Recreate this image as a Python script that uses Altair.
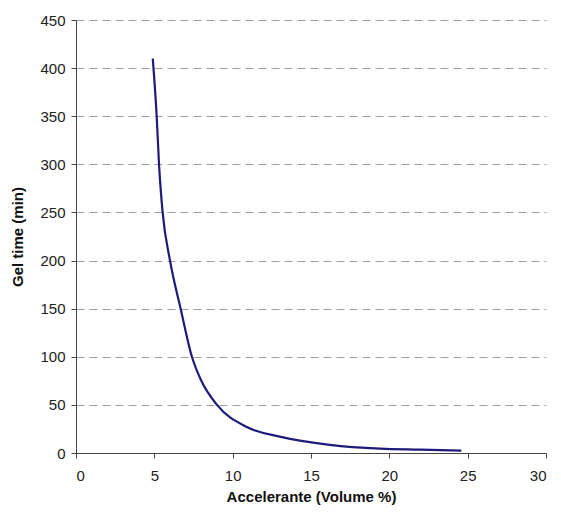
import altair as alt
import pandas as pd

accel = [4.9, 5.0, 5.15, 5.3, 5.53, 6.0, 6.68, 7.4, 8.0, 9.0, 10.9, 13.0, 16.2, 19.4, 22.0, 24.6]
gel = [410, 388, 350, 300, 250, 200, 150, 100, 75, 50, 27, 17, 8.5, 4.5, 3.5, 2.5]

df = pd.DataFrame({"x": accel, "y": gel})

chart = alt.Chart(df).mark_line(color="#1c1c7a", strokeWidth=2.2, interpolate="monotone").encode(
    x=alt.X("x:Q", scale=alt.Scale(domain=[0, 30], nice=False),
            axis=alt.Axis(title="Accelerante (Volume %)", values=[0, 5, 10, 15, 20, 25, 30],
                          grid=False, tickSize=5, labelPadding=10, titlePadding=6)),
    y=alt.Y("y:Q", scale=alt.Scale(domain=[0, 450], nice=False),
            axis=alt.Axis(title="Gel time  (min)", values=list(range(0, 451, 50)),
                          grid=True, gridDash=[8, 5], gridColor="#a0a0a0", gridWidth=1,
                          tickSize=5, labelPadding=6, titlePadding=14)),
).properties(
    width=470, height=433,
    autosize=alt.AutoSizeParams(type="none"),
    padding={"left": 68, "top": 12, "right": 7, "bottom": 53},
).configure_view(stroke=None).configure_axis(
    domainColor="#444444", tickColor="#444444", labelColor="#222222",
    labelFont="Liberation Sans", labelFontSize=15, labelFontWeight="normal",
    titleFont="Liberation Sans", titleFontSize=15, titleFontWeight="bold", titleColor="#111111",
)

chart.save("out.html", embed_options={"renderer": "svg", "actions": False})
